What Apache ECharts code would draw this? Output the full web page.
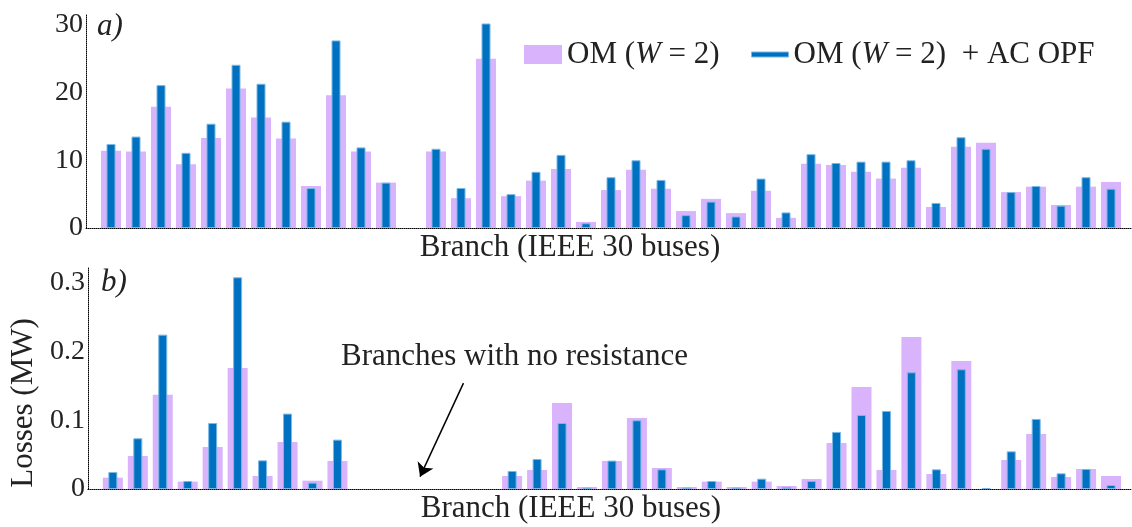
<!DOCTYPE html>
<html>
<head>
<meta charset="utf-8">
<script src="https://cdn.jsdelivr.net/npm/echarts@6/dist/echarts.min.js"></script>
<style>
  html, body { margin: 0; padding: 0; background: #fff; }
  #main { width: 1132px; height: 527px; }
</style>
</head>
<body>
<div id="main"></div>
<script>
// branch index 1..41 (IEEE 30-bus system)
var branches = [];
for (var b = 1; b <= 41; b++) branches.push(b);

// a) top panel values
var flowOM = [11.4, 11.3, 17.9, 9.4, 13.3, 20.6, 16.3, 13.2, 6.2, 19.6, 11.3, 6.7, 0,
  11.3, 4.4, 25.0, 4.7, 7.0, 8.7, 0.9, 5.6, 8.6, 5.8, 2.5, 4.3, 2.2, 5.5,
  1.5, 9.5, 9.3, 8.3, 7.3, 8.9, 3.1, 12.0, 12.6, 5.3, 6.1, 3.4, 6.1, 6.8];
var flowOPF = [12.4, 13.5, 21.1, 11.1, 15.4, 24.1, 21.3, 15.7, 5.9, 27.7, 11.9, 6.7, 0,
  11.7, 5.9, 30.2, 5.0, 8.3, 10.8, 0.7, 7.5, 10.0, 7.1, 1.9, 3.9, 1.7, 7.3,
  2.3, 10.9, 9.6, 9.8, 9.8, 10.0, 3.7, 13.4, 11.7, 5.3, 6.2, 3.3, 7.5, 5.8];

// b) bottom panel losses (MW)
var lossOM = [0.0165, 0.048, 0.137, 0.0107, 0.0611, 0.176, 0.0189, 0.0684, 0.0121, 0.0408,
  0, 0, 0, 0, 0, 0,
  0.0189, 0.0277, 0.1252, 0.0029, 0.0408, 0.1033, 0.0306, 0.0029, 0.0107, 0.0029, 0.0107,
  0.0044, 0.0146, 0.067, 0.1485, 0.0277, 0.2212, 0.0218, 0.1863, 0, 0.0422, 0.08, 0.0175, 0.0291, 0.0189];
var lossOPF = [0.0247, 0.0738, 0.2246, 0.0116, 0.096, 0.308, 0.0417, 0.1097, 0.0092, 0.0718,
  0, 0, 0, 0, 0, 0,
  0.0262, 0.0437, 0.096, 0.002, 0.0413, 0.1, 0.0286, 0.002, 0.0116, 0.002, 0.015,
  0.0029, 0.0116, 0.083, 0.1077, 0.1135, 0.1698, 0.0286, 0.1742, 0.0015, 0.0548, 0.1019, 0.0228, 0.0291, 0.0058];

var ticksTop = [0, 10, 20, 30];
var ticksBottom = [0, 0.1, 0.2, 0.3];

var nameOM = 'OM (W = 2)';
var nameOPF = 'OM (W = 2) + AC OPF';

var serif = 'Liberation Serif';
var txt = '#222';
var purple = '#d9b3fb';
var blue = '#0070c0';

function pairs(vals) {
  return branches.map(function (b, i) {
    return [b, vals[i] === 0 ? '-' : vals[i]];
  });
}
function tickFmt(ticks) {
  return function (v) {
    for (var i = 0; i < ticks.length; i++) {
      if (Math.abs(v - ticks[i]) < 1e-9) return String(ticks[i]);
    }
    return '';
  };
}

var dotted = { show: true, lineStyle: { color: '#000', type: [1, 1], width: 1 } };
var richLeg = {
  n: { fontFamily: serif, fontSize: 31, color: txt },
  i: { fontFamily: serif, fontSize: 31, color: txt, fontStyle: 'italic' }
};

function xAx(grid, visible) {
  return {
    type: 'value', gridIndex: grid, min: 0, max: 41.8,
    show: visible, position: 'bottom',
    axisLine: dotted, axisTick: { show: false }, axisLabel: { show: false },
    splitLine: { show: false },
    name: 'Branch (IEEE 30 buses)', nameLocation: 'middle', nameGap: 4,
    nameTextStyle: { fontFamily: serif, fontSize: 31, color: txt, padding: [0, 77, 0, 0] }
  };
}

var myChart = echarts.init(document.getElementById('main'));
myChart.setOption({
  animation: false,
  textStyle: { fontFamily: serif },
  title: [
    { text: 'a)', left: 92, top: 6, textStyle: { fontFamily: serif, fontStyle: 'italic', fontWeight: 'normal', fontSize: 31, color: txt } },
    { text: 'b)', left: 96, top: 262, textStyle: { fontFamily: serif, fontStyle: 'italic', fontWeight: 'normal', fontSize: 31, color: txt } },
    { text: 'Branches with no resistance', left: 336, top: 336, textStyle: { fontFamily: serif, fontWeight: 'normal', fontSize: 31, color: txt } }
  ],
  legend: [
    {
      data: [nameOM], left: 519, top: 34, itemWidth: 38, itemHeight: 19,
      icon: 'rect',
      formatter: function () { return '{n|OM (}{i|W}{n| = 2)}'; },
      textStyle: { rich: richLeg }
    },
    {
      data: [nameOPF], left: 746, top: 34, itemWidth: 37, itemHeight: 5,
      icon: 'rect',
      itemStyle: { borderColor: '#7ab8e6', borderWidth: 1 },
      formatter: function () { return '{n|OM (}{i|W}{n| = 2)  + AC OPF}'; },
      textStyle: { rich: richLeg }
    }
  ],
  grid: [
    { left: 86, top: 14, width: 1045, height: 214 },
    { left: 86, top: 267, width: 1045, height: 222 }
  ],
  xAxis: [xAx(0, true), xAx(0, false), xAx(1, true), xAx(1, false)],
  yAxis: [
    {
      type: 'value', gridIndex: 0, min: 0, max: 31.6, interval: 10,
      axisLine: dotted, axisTick: { show: false }, splitLine: { show: false },
      axisLabel: { fontFamily: serif, fontSize: 28, color: txt, margin: 3, formatter: tickFmt(ticksTop) }
    },
    {
      type: 'value', gridIndex: 1, min: 0, max: 0.323, interval: 0.1,
      axisLine: dotted, axisTick: { show: false }, splitLine: { show: false },
      axisLabel: { fontFamily: serif, fontSize: 28, color: txt, margin: 3, formatter: tickFmt(ticksBottom) },
      name: 'Losses (MW)', nameLocation: 'middle', nameGap: 48,
      nameTextStyle: { fontFamily: serif, fontSize: 31, color: txt, padding: [0, 50, 0, 0] }
    }
  ],
  series: [
    {
      name: nameOM, type: 'bar', xAxisIndex: 0, yAxisIndex: 0,
      barWidth: 20, itemStyle: { color: purple }, data: pairs(flowOM)
    },
    {
      name: nameOPF, type: 'bar', xAxisIndex: 1, yAxisIndex: 0,
      barWidth: 9, itemStyle: { color: blue, borderColor: '#7ab8e6', borderWidth: 1 }, data: pairs(flowOPF)
    },
    {
      name: nameOM, type: 'bar', xAxisIndex: 2, yAxisIndex: 1,
      barWidth: 20, itemStyle: { color: purple }, data: pairs(lossOM),
      markLine: {
        silent: true, symbol: ['none', 'arrow'], symbolSize: 13,
        label: { show: false },
        lineStyle: { color: '#000', width: 1.5, type: 'solid' },
        data: [[{ coord: [15.05, 0.154] }, { coord: [13.31, 0.018] }]]
      }
    },
    {
      name: nameOPF, type: 'bar', xAxisIndex: 3, yAxisIndex: 1,
      barWidth: 9, itemStyle: { color: blue, borderColor: '#7ab8e6', borderWidth: 1 }, data: pairs(lossOPF)
    }
  ]
});
</script>
</body>
</html>
